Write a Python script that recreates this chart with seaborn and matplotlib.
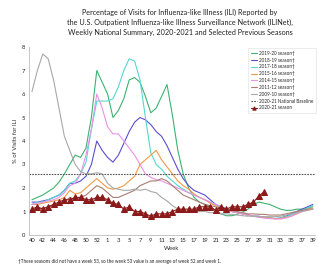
import matplotlib
matplotlib.use("Agg")
import matplotlib.pyplot as plt
import seaborn as sns
import pandas as pd
import numpy as np

weeks = [40, 41, 42, 43, 44, 45, 46, 47, 48, 49, 50, 51, 52, 53] + list(range(1, 40))

s2019_20 = [1.5, 1.6, 1.7, 1.85, 2.0, 2.25, 2.6, 3.0, 3.4, 3.3, 3.7, 5.0, 7.0, 6.5,
            6.0, 5.0, 5.3, 5.8, 6.6, 6.7, 6.5, 5.9, 5.2, 5.4, 5.9, 6.4, 5.1, 3.6,
            2.6, 2.0, 1.6, 1.4, 1.3, 1.2, 1.05, 0.9, 0.82, 0.82, 0.88, 0.98, 1.1, 1.3,
            1.4, 1.35, 1.3, 1.2, 1.1, 1.05, 1.05, 1.1, 1.1, 1.15, 1.2]
s2018_19 = [1.4, 1.4, 1.45, 1.5, 1.6, 1.7, 1.9, 2.2, 2.2, 2.3, 2.5, 3.0, 4.0, 3.6,
            3.3, 3.1, 3.4, 3.9, 4.4, 4.8, 5.0, 4.9, 4.7, 4.4, 4.2, 3.8, 3.3, 2.8,
            2.4, 2.1, 1.9, 1.8, 1.7, 1.5, 1.3, 1.2, 1.1, 1.0, 0.95, 0.9, 0.85, 0.8,
            0.8, 0.75, 0.72, 0.7, 0.72, 0.8, 0.9, 1.0, 1.1, 1.2, 1.3]
s2017_18 = [1.3, 1.4, 1.4, 1.5, 1.6, 1.7, 1.9, 2.2, 2.3, 2.6, 3.1, 4.5, 5.7, 5.7,
            5.7, 5.8, 6.3, 7.0, 7.5, 7.4, 6.6, 5.0, 3.5, 3.0, 2.8, 2.5, 2.3, 2.1,
            1.95, 1.8, 1.7, 1.6, 1.5, 1.4, 1.3, 1.2, 1.1, 1.0, 0.95, 0.9, 0.85, 0.8,
            0.78, 0.75, 0.72, 0.7, 0.72, 0.78, 0.85, 0.95, 1.05, 1.15, 1.25]
s2015_16 = [1.3, 1.3, 1.35, 1.4, 1.45, 1.5, 1.6, 1.9, 1.75, 1.8, 2.0, 2.2, 2.4, 2.2,
            2.0, 1.95, 2.0, 2.1, 2.3, 2.5, 3.0, 3.2, 3.4, 3.6, 3.2, 2.9, 2.6, 2.3,
            2.1, 1.95, 1.75, 1.6, 1.5, 1.35, 1.25, 1.15, 1.05, 1.0, 0.95, 0.9, 0.85, 0.8,
            0.78, 0.75, 0.72, 0.7, 0.7, 0.75, 0.8, 0.9, 1.0, 1.1, 1.15]
s2014_15 = [1.3, 1.35, 1.4, 1.45, 1.5, 1.6, 1.8, 2.1, 2.2, 2.6, 3.4, 4.5, 6.0, 5.4,
            4.6, 4.3, 4.3, 4.0, 3.7, 3.4, 3.0, 2.6, 2.45, 2.35, 2.3, 2.2, 2.1, 2.0,
            1.9, 1.8, 1.7, 1.6, 1.5, 1.4, 1.3, 1.2, 1.1, 1.0, 0.95, 0.9, 0.85, 0.8,
            0.75, 0.72, 0.7, 0.68, 0.68, 0.72, 0.8, 0.9, 1.0, 1.05, 1.1]
s2011_12 = [1.1, 1.1, 1.15, 1.2, 1.25, 1.3, 1.4, 1.6, 1.5, 1.6, 1.7, 1.9, 2.1, 2.0,
            1.8, 1.6, 1.6, 1.7, 1.8, 1.9, 2.1, 2.2, 2.3, 2.3, 2.4, 2.3, 2.1, 1.9,
            1.7, 1.6, 1.5, 1.4, 1.3, 1.25, 1.2, 1.15, 1.1, 1.05, 1.0, 0.95, 0.9, 0.9,
            0.88, 0.88, 0.85, 0.85, 0.85, 0.9, 0.95, 1.0, 1.05, 1.1, 1.1]
s2009_10 = [6.1, 7.0, 7.7, 7.5, 6.6, 5.4, 4.2, 3.6, 3.0, 2.7, 2.6, 2.6, 2.65, 2.6,
            2.2, 2.0, 1.95, 1.9, 1.9, 1.95, 1.9, 1.95, 1.85, 1.8, 1.6, 1.45, 1.25, 1.1,
            1.05, 1.0, 1.0, 1.0, 1.0, 0.95, 0.95, 0.9, 0.9, 0.88, 0.85, 0.82, 0.8, 0.8,
            0.78, 0.78, 0.78, 0.78, 0.8, 0.85, 0.9, 0.95, 1.0, 1.05, 1.1]
s2020_21 = [1.1, 1.2, 1.1, 1.2, 1.3, 1.4, 1.5, 1.5, 1.6, 1.6, 1.5, 1.5, 1.6, 1.6,
            1.5, 1.35, 1.3, 1.1, 1.2, 1.0, 1.0, 0.9, 0.8, 0.9, 0.9, 0.9, 1.0, 1.1,
            1.1, 1.1, 1.1, 1.2, 1.2, 1.2, 1.05, 1.2, 1.1, 1.2, 1.2, 1.2, 1.3, 1.4,
            1.65, 1.85]
baseline = 2.6

season_labels = ["2019-20 season\u2020", "2018-19 season\u2020", "2017-18 season\u2020",
                 "2015-16 season\u2020", "2014-15 season\u2020", "2011-12 season\u2020",
                 "2009-10 season\u2020"]
season_values = [s2019_20, s2018_19, s2017_18, s2015_16, s2014_15, s2011_12, s2009_10]
season_colors = ["#3cb371", "#5a4fcf", "#55d8d0", "#f29a48", "#e892e8", "#a87f72", "#a8a8a8"]

sns.set_theme(style="white")
plt.rcParams['font.family'] = ['Lato', 'DejaVu Sans']

fig = plt.figure(figsize=(3.19, 2.65), dpi=100)
ax = fig.add_axes([29/319, 30/265, 286/319, 188/265])

pos = np.arange(len(weeks))
for lab, vals, col in zip(season_labels, season_values, season_colors):
    sns.lineplot(x=pos[:len(vals)], y=vals, color=col, lw=0.8, ax=ax, label=lab)

ax.axhline(baseline, color="#555555", lw=0.8, ls=(0, (1.5, 1)), label="2020-21 National Baseline")
sns.lineplot(x=pos[:len(s2020_21)], y=s2020_21, color="#8b1a1a", lw=0.8, marker="^",
             markersize=4, markeredgecolor="#8b1a1a", ax=ax, label="2020-21 season")

ax.set_xlim(-0.55, 52.4)
ax.set_ylim(0, 8)
ax.set_xticks(pos[::2])
ax.set_xticklabels([str(w) for w in weeks[::2]], fontsize=4.2)
ax.set_yticks(range(0, 9))
ax.set_yticklabels([str(v) for v in range(0, 9)], fontsize=4.2)
ax.tick_params(axis="both", length=1.5, width=0.5, pad=1, color="#999999", colors="#222222")
for sp in ["top", "right"]:
    ax.spines[sp].set_visible(False)
for sp in ["left", "bottom"]:
    ax.spines[sp].set_color("#bbbbbb")
    ax.spines[sp].set_linewidth(0.6)
ax.set_xlabel("Week", fontsize=4.2, labelpad=2)
ax.set_ylabel("% of Visits for ILI", fontsize=4.2, labelpad=3)

handles, labels = ax.get_legend_handles_labels()
leg = ax.legend(handles, labels, loc="upper left", bbox_to_anchor=(248/319, 1 - 48/265),
                bbox_transform=fig.transFigure, fontsize=3.3, frameon=True,
                handlelength=1.3, handletextpad=0.4, labelspacing=0.4,
                borderpad=0.6, borderaxespad=0, fancybox=False, markerscale=0.6)
leg.get_frame().set_edgecolor("#dddddd")
leg.get_frame().set_linewidth(0.5)

title = ("Percentage of Visits for Influenza-like Illness (ILI) Reported by\n"
         "the U.S. Outpatient Influenza-like Illness Surveillance Network (ILINet),\n"
         "Weekly National Summary, 2020-2021 and Selected Previous Seasons")
fig.text(180/319, 1 - 9/265, title, ha="center", va="top", fontsize=5.2,
         linespacing=1.5, color="#222222")
fig.text(18/319, 1 - 261/265, "\u2020These seasons did not have a week 53, so the week 53 value is an average of week 52 and week 1.",
         ha="left", va="center", fontsize=3.3, color="#222222")

fig.savefig("out.png", dpi=100)
